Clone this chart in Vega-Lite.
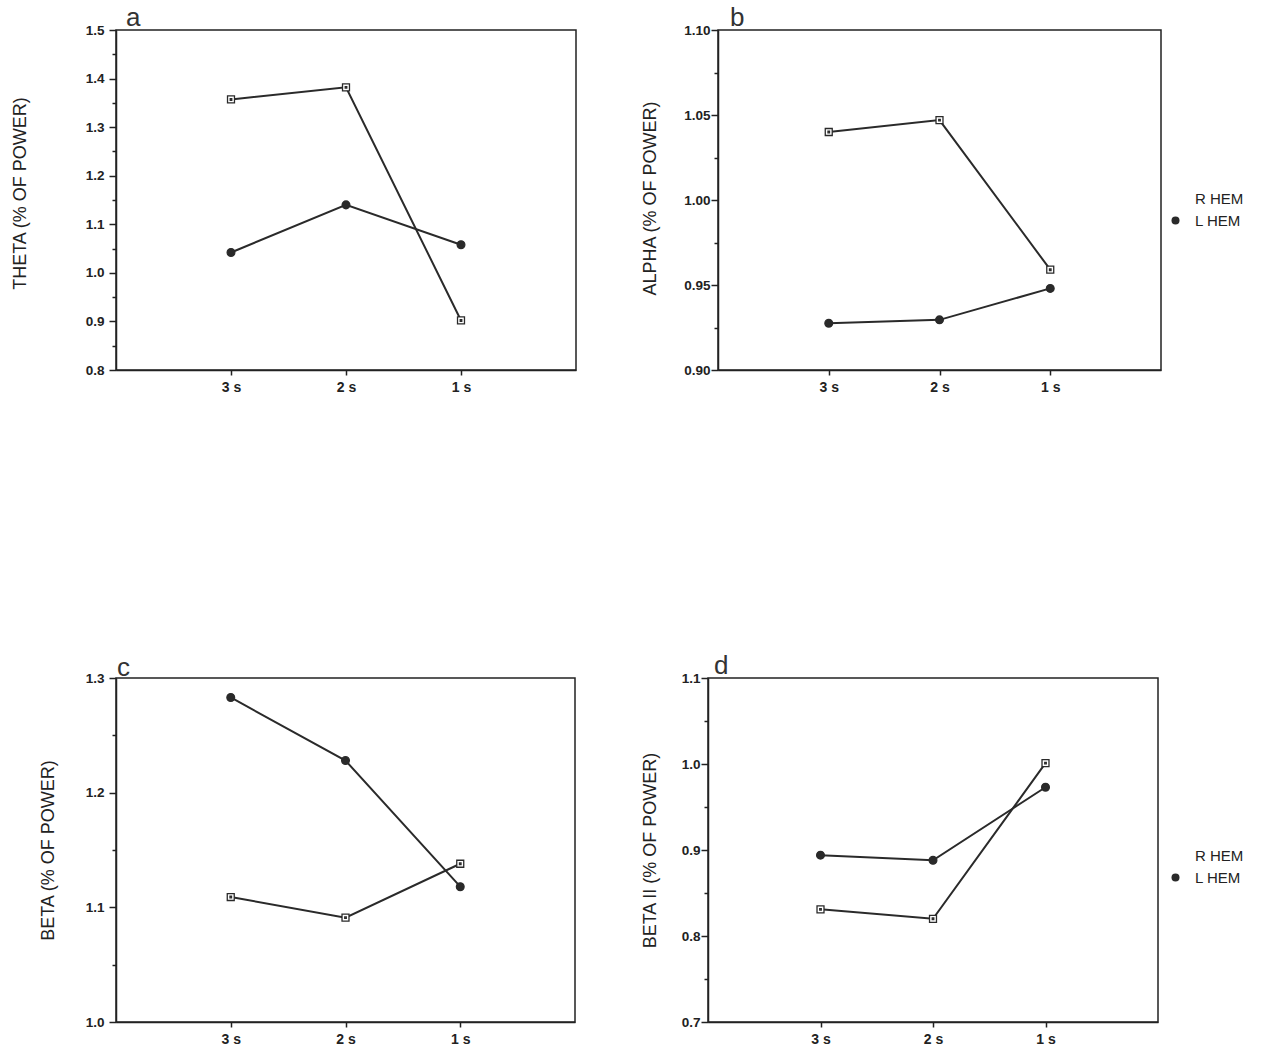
{
  "$schema": "https://vega.github.io/schema/vega-lite/v6.json",
  "background": "white",
  "padding": {"left": 10, "top": 4, "right": 5, "bottom": 5},
  "bounds": "flush",
  "spacing": 648,
  "resolve": {"legend": {"shape": "independent", "fill": "independent"}, "scale": {"y": "independent"}},
  "data": {"values": [
    {"panel": "a", "time": "3 s", "hem": "R HEM", "value": 1.357},
    {"panel": "a", "time": "2 s", "hem": "R HEM", "value": 1.382},
    {"panel": "a", "time": "1 s", "hem": "R HEM", "value": 0.902},
    {"panel": "a", "time": "3 s", "hem": "L HEM", "value": 1.042},
    {"panel": "a", "time": "2 s", "hem": "L HEM", "value": 1.140},
    {"panel": "a", "time": "1 s", "hem": "L HEM", "value": 1.058},
    {"panel": "b", "time": "3 s", "hem": "R HEM", "value": 1.040},
    {"panel": "b", "time": "2 s", "hem": "R HEM", "value": 1.047},
    {"panel": "b", "time": "1 s", "hem": "R HEM", "value": 0.959},
    {"panel": "b", "time": "3 s", "hem": "L HEM", "value": 0.9275},
    {"panel": "b", "time": "2 s", "hem": "L HEM", "value": 0.9295},
    {"panel": "b", "time": "1 s", "hem": "L HEM", "value": 0.948},
    {"panel": "c", "time": "3 s", "hem": "R HEM", "value": 1.109},
    {"panel": "c", "time": "2 s", "hem": "R HEM", "value": 1.091},
    {"panel": "c", "time": "1 s", "hem": "R HEM", "value": 1.138},
    {"panel": "c", "time": "3 s", "hem": "L HEM", "value": 1.283},
    {"panel": "c", "time": "2 s", "hem": "L HEM", "value": 1.228},
    {"panel": "c", "time": "1 s", "hem": "L HEM", "value": 1.118},
    {"panel": "d", "time": "3 s", "hem": "R HEM", "value": 0.831},
    {"panel": "d", "time": "2 s", "hem": "R HEM", "value": 0.820},
    {"panel": "d", "time": "1 s", "hem": "R HEM", "value": 1.001},
    {"panel": "d", "time": "3 s", "hem": "L HEM", "value": 0.894},
    {"panel": "d", "time": "2 s", "hem": "L HEM", "value": 0.888},
    {"panel": "d", "time": "1 s", "hem": "L HEM", "value": 0.973}
  ]},
  "vconcat": [
    {
      "bounds": "flush",
      "spacing": 142,
      "resolve": {"legend": {"shape": "independent", "fill": "independent"}, "scale": {"y": "independent"}},
      "hconcat": [
        {
          "width": 460, "height": 340,
          "title": {"text": "a", "anchor": "start", "frame": "group", "dx": 10, "offset": -8},
          "transform": [{"filter": "datum.panel == 'a'"}],
          "encoding": {
            "x": {"field": "time", "type": "ordinal", "sort": ["3 s", "2 s", "1 s"], "scale": {"type": "point", "padding": 1}, "axis": {"title": null, "labelAngle": 0}},
            "y": {"field": "value", "type": "quantitative", "scale": {"domain": [0.8, 1.5], "zero": false, "nice": false},
              "axis": {"title": "THETA (% OF POWER)", "titlePadding": 56, "labelPadding": 5, "titleY": 163,
                "values": [0.8, 0.85, 0.9, 0.95, 1.0, 1.05, 1.1, 1.15, 1.2, 1.25, 1.3, 1.35, 1.4, 1.45, 1.5],
                "labelExpr": "abs(datum.value*10 - round(datum.value*10)) < 0.001 ? format(datum.value, '.1f') : ''",
                "tickSize": {"condition": {"test": "abs(datum.value*10 - round(datum.value*10)) < 0.001", "value": 7}, "value": 4}}}
          },
          "layer": [
            {"mark": {"type": "line", "color": "#2a2a2a", "strokeWidth": 2}, "encoding": {"detail": {"field": "hem"}}},
            {"mark": {"type": "point", "filled": false, "stroke": "#2a2a2a", "strokeWidth": 1.3, "size": 60, "opacity": 1},
              "encoding": {
                "shape": {"field": "hem", "scale": {"domain": ["R HEM", "L HEM"], "range": ["M-0.9,-0.9H0.9V0.9H-0.9ZM-0.2,-0.2H0.2V0.2H-0.2Z", "circle"]}, "legend": null},
                "fill": {"field": "hem", "scale": {"domain": ["R HEM", "L HEM"], "range": ["white", "#2a2a2a"]}, "legend": null}
              }}
          ]
        },
        {
          "width": 443, "height": 340,
          "title": {"text": "b", "anchor": "start", "frame": "group", "dx": 12, "offset": -8},
          "transform": [{"filter": "datum.panel == 'b'"}],
          "encoding": {
            "x": {"field": "time", "type": "ordinal", "sort": ["3 s", "2 s", "1 s"], "scale": {"type": "point", "padding": 1}, "axis": {"title": null, "labelAngle": 0}},
            "y": {"field": "value", "type": "quantitative", "scale": {"domain": [0.9, 1.1], "zero": false, "nice": false},
              "axis": {"title": "ALPHA (% OF POWER)", "titlePadding": 24, "labelPadding": 1, "titleY": 168,
                "values": [0.9, 0.925, 0.95, 0.975, 1.0, 1.025, 1.05, 1.075, 1.1],
                "labelExpr": "abs(datum.value*20 - round(datum.value*20)) < 0.001 ? format(datum.value, '.2f') : ''",
                "tickSize": {"condition": {"test": "abs(datum.value*20 - round(datum.value*20)) < 0.001", "value": 7}, "value": 4}}}
          },
          "layer": [
            {"mark": {"type": "line", "color": "#2a2a2a", "strokeWidth": 2}, "encoding": {"detail": {"field": "hem"}}},
            {"mark": {"type": "point", "filled": false, "stroke": "#2a2a2a", "strokeWidth": 1.3, "size": 60, "opacity": 1},
              "encoding": {
                "shape": {"field": "hem", "scale": {"domain": ["R HEM", "L HEM"], "range": ["M-0.9,-0.9H0.9V0.9H-0.9ZM-0.2,-0.2H0.2V0.2H-0.2Z", "circle"]},
                  "legend": {"title": null, "orient": "none", "legendX": 450, "legendY": 161}},
                "fill": {"field": "hem", "scale": {"domain": ["R HEM", "L HEM"], "range": ["white", "#2a2a2a"]},
                  "legend": {"title": null, "orient": "none", "legendX": 450, "legendY": 161}}
              }}
          ]
        }
      ]
    },
    {
      "bounds": "flush",
      "spacing": 133,
      "resolve": {"legend": {"shape": "independent", "fill": "independent"}, "scale": {"y": "independent"}},
      "hconcat": [
        {
          "width": 459, "height": 344,
          "title": {"text": "c", "anchor": "start", "frame": "group", "dx": 1, "offset": -10},
          "transform": [{"filter": "datum.panel == 'c'"}],
          "encoding": {
            "x": {"field": "time", "type": "ordinal", "sort": ["3 s", "2 s", "1 s"], "scale": {"type": "point", "padding": 1}, "axis": {"title": null, "labelAngle": 0}},
            "y": {"field": "value", "type": "quantitative", "scale": {"domain": [1.0, 1.3], "zero": false, "nice": false},
              "axis": {"title": "BETA (% OF POWER)", "titlePadding": 28, "labelPadding": 5,
                "values": [1.0, 1.05, 1.1, 1.15, 1.2, 1.25, 1.3],
                "labelExpr": "abs(datum.value*10 - round(datum.value*10)) < 0.001 ? format(datum.value, '.1f') : ''",
                "tickSize": {"condition": {"test": "abs(datum.value*10 - round(datum.value*10)) < 0.001", "value": 7}, "value": 4}}}
          },
          "layer": [
            {"mark": {"type": "line", "color": "#2a2a2a", "strokeWidth": 2}, "encoding": {"detail": {"field": "hem"}}},
            {"mark": {"type": "point", "filled": false, "stroke": "#2a2a2a", "strokeWidth": 1.3, "size": 60, "opacity": 1},
              "encoding": {
                "shape": {"field": "hem", "scale": {"domain": ["R HEM", "L HEM"], "range": ["M-0.9,-0.9H0.9V0.9H-0.9ZM-0.2,-0.2H0.2V0.2H-0.2Z", "circle"]}, "legend": null},
                "fill": {"field": "hem", "scale": {"domain": ["R HEM", "L HEM"], "range": ["white", "#2a2a2a"]}, "legend": null}
              }}
          ]
        },
        {
          "width": 450, "height": 344,
          "title": {"text": "d", "anchor": "start", "frame": "group", "dx": 6, "offset": -8},
          "transform": [{"filter": "datum.panel == 'd'"}],
          "encoding": {
            "x": {"field": "time", "type": "ordinal", "sort": ["3 s", "2 s", "1 s"], "scale": {"type": "point", "padding": 1}, "axis": {"title": null, "labelAngle": 0}},
            "y": {"field": "value", "type": "quantitative", "scale": {"domain": [0.7, 1.1], "zero": false, "nice": false},
              "axis": {"title": "BETA II (% OF POWER)", "titlePadding": 22, "labelPadding": 1,
                "values": [0.7, 0.75, 0.8, 0.85, 0.9, 0.95, 1.0, 1.05, 1.1],
                "labelExpr": "abs(datum.value*10 - round(datum.value*10)) < 0.001 ? format(datum.value, '.1f') : ''",
                "tickSize": {"condition": {"test": "abs(datum.value*10 - round(datum.value*10)) < 0.001", "value": 7}, "value": 4}}}
          },
          "layer": [
            {"mark": {"type": "line", "color": "#2a2a2a", "strokeWidth": 2}, "encoding": {"detail": {"field": "hem"}}},
            {"mark": {"type": "point", "filled": false, "stroke": "#2a2a2a", "strokeWidth": 1.3, "size": 60, "opacity": 1},
              "encoding": {
                "shape": {"field": "hem", "scale": {"domain": ["R HEM", "L HEM"], "range": ["M-0.9,-0.9H0.9V0.9H-0.9ZM-0.2,-0.2H0.2V0.2H-0.2Z", "circle"]},
                  "legend": {"title": null, "orient": "none", "legendX": 460, "legendY": 170}},
                "fill": {"field": "hem", "scale": {"domain": ["R HEM", "L HEM"], "range": ["white", "#2a2a2a"]},
                  "legend": {"title": null, "orient": "none", "legendX": 460, "legendY": 170}}
              }}
          ]
        }
      ]
    }
  ],
  "config": {
    "view": {"stroke": "#222", "strokeWidth": 1.5},
    "title": {"font": "Liberation Sans", "fontSize": 26, "fontWeight": "normal", "color": "#333", "baseline": "alphabetic"},
    "axis": {
      "grid": false, "domainColor": "#222", "domainWidth": 1.5, "tickColor": "#222", "tickWidth": 1.5,
      "labelFont": "Liberation Sans", "labelFontWeight": "bold", "labelFontSize": 13.5, "labelColor": "#222",
      "labelOverlap": false, "labelFlush": false,
      "titleFont": "Liberation Sans", "titleFontWeight": "normal", "titleFontSize": 18, "titleColor": "#222"
    },
    "axisX": {"tickSize": 5, "labelPadding": 5, "labelFontSize": 14},
    "legend": {"labelFont": "Liberation Sans", "labelFontSize": 15, "labelColor": "#222", "symbolStrokeColor": "#2a2a2a", "symbolStrokeWidth": 1.3, "symbolSize": 64, "rowPadding": 6, "labelOffset": 12}
  }
}
